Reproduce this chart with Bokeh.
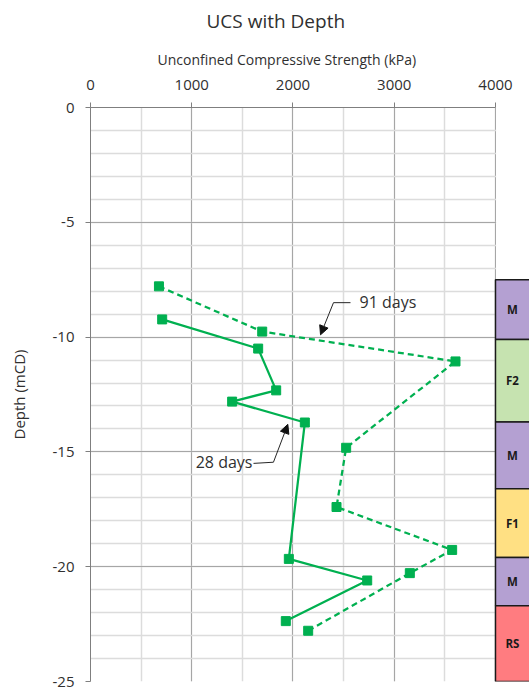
from bokeh.plotting import figure
from bokeh.models import (Range1d, SingleIntervalTicker, Arrow, NormalHead, Label,
                          ColumnDataSource, PrintfTickFormatter, Title)
from bokeh.core.properties import value
from bokeh.embed import file_html
from bokeh.resources import INLINE

# ---- data ----
ucs_28 = [708, 1656, 1834, 1399, 2117, 1959, 2733, 1929]
depth_28 = [-9.23, -10.50, -12.32, -12.81, -13.72, -19.66, -20.60, -22.37]

ucs_91 = [676, 1696, 3605, 2525, 2430, 3572, 3154, 2150]
depth_91 = [-7.79, -9.76, -11.06, -14.82, -17.40, -19.27, -20.28, -22.79]

strata_labels = ["M", "F2", "M", "F1", "M", "RS"]
strata_top = [-7.5, -10.1, -13.7, -16.6, -19.6, -21.7]
strata_bottom = [-10.1, -13.7, -16.6, -19.6, -21.7, -25.0]
strata_colors = ["#B4A0D2", "#C6E3B0", "#B4A0D2", "#FFE083", "#B4A0D2", "#FF7C80"]

FONT = "Open Sans"
GREEN = "#00B050"
TXT = "#303030"

p = figure(width=529, height=691,
           x_range=Range1d(0, 4336), y_range=Range1d(-25, 0),
           x_axis_location="above",
           output_backend="svg", toolbar_location=None,
           min_border_left=90, min_border_right=0,
           min_border_top=107, min_border_bottom=10,
           title="UCS with Depth")

p.outline_line_color = None
p.background_fill_color = "white"
p.border_fill_color = "white"

# x-axis title drawn as a sub-title so it can be centred like the reference
p.add_layout(Title(text="Unconfined Compressive Strength (kPa)", align="left",
                   offset=67, standoff=16, text_font=FONT, text_font_size="14px",
                   text_font_style="normal", text_color=TXT), "above")

p.title.text_font = FONT
p.title.text_font_size = "19px"
p.title.text_font_style = "normal"
p.title.text_color = TXT
p.title.align = "left"
p.title.offset = 116
p.title.standoff = 11

# axes
p.xaxis.ticker = SingleIntervalTicker(interval=1000, num_minor_ticks=2)
p.yaxis.ticker = SingleIntervalTicker(interval=5, num_minor_ticks=5)
p.xaxis.formatter = PrintfTickFormatter(format="%d")
p.yaxis.formatter = PrintfTickFormatter(format="%d")
p.xaxis.bounds = (0, 4000)
p.yaxis.axis_label = "Depth (mCD)"
for ax in (p.xaxis, p.yaxis):
    ax.axis_label_text_font = FONT
    ax.axis_label_text_font_style = "normal"
    ax.axis_label_text_color = TXT
    ax.major_label_text_font = FONT
    ax.major_label_text_font_size = "15px"
    ax.major_label_text_color = TXT
    ax.axis_line_color = "#7f7f7f"
    ax.major_tick_line_color = "#7f7f7f"
    ax.major_tick_in = 0
    ax.major_tick_out = 5
    ax.minor_tick_line_color = None
p.yaxis.axis_label_text_font_size = "15px"
p.xaxis.major_label_standoff = 13
p.yaxis.major_label_standoff = 11
p.yaxis.axis_label_standoff = 21

# grids
for g in (p.xgrid, p.ygrid):
    g.grid_line_color = "#a6a6a6"
    g.grid_line_width = 1
    g.minor_grid_line_color = "#dcdcdc"
    g.minor_grid_line_width = 1.5

# blank area right of the plot (hides grid there)
p.quad(left=[4006], right=[4500], top=[0], bottom=[-25],
       fill_color="white", line_color=None)

# strata column
strata = ColumnDataSource(dict(
    label=strata_labels, top=strata_top, bottom=strata_bottom,
    color=strata_colors,
    mid=[(a + b) / 2 for a, b in zip(strata_top, strata_bottom)],
))
p.quad(left=4000, right=4500, top="top", bottom="bottom", source=strata,
       fill_color="color", line_color="#1a1a1a", line_width=1.5)
p.text(x=4168, y="mid", text="label", source=strata,
       text_align="center", text_baseline="middle",
       text_font=value(FONT), text_font_size="11.5px",
       text_font_style="bold", text_color="#1a1a1a")

# series
p.line(ucs_91, depth_91, line_color=GREEN, line_width=2.25, line_dash="6 4")
p.scatter(ucs_91, depth_91, marker="square", size=9, color=GREEN)
p.line(ucs_28, depth_28, line_color=GREEN, line_width=2.25)
p.scatter(ucs_28, depth_28, marker="square", size=9, color=GREEN)

# callouts
p.segment(x0=[2568, 1610], y0=[-8.5, -15.5], x1=[2400, 1807], y1=[-8.5, -15.45],
          line_color="#262626", line_width=1)
p.add_layout(Arrow(end=NormalHead(size=9, fill_color="#111111", line_color="#111111"),
                   x_start=2400, y_start=-8.5, x_end=2272, y_end=-9.9,
                   line_color="#262626", line_width=1))
p.add_layout(Arrow(end=NormalHead(size=9, fill_color="#111111", line_color="#111111"),
                   x_start=1807, y_start=-15.45, x_end=1949, y_end=-13.8,
                   line_color="#262626", line_width=1))
p.add_layout(Label(x=2657, y=-8.46, text="91 days", text_baseline="middle",
                   text_font=FONT, text_font_size="16px", text_color=TXT))
p.add_layout(Label(x=1600, y=-15.45, text="28 days", text_baseline="middle",
                   text_align="right",
                   text_font=FONT, text_font_size="16px", text_color=TXT))

open("out.html", "w").write(file_html(p, INLINE))
